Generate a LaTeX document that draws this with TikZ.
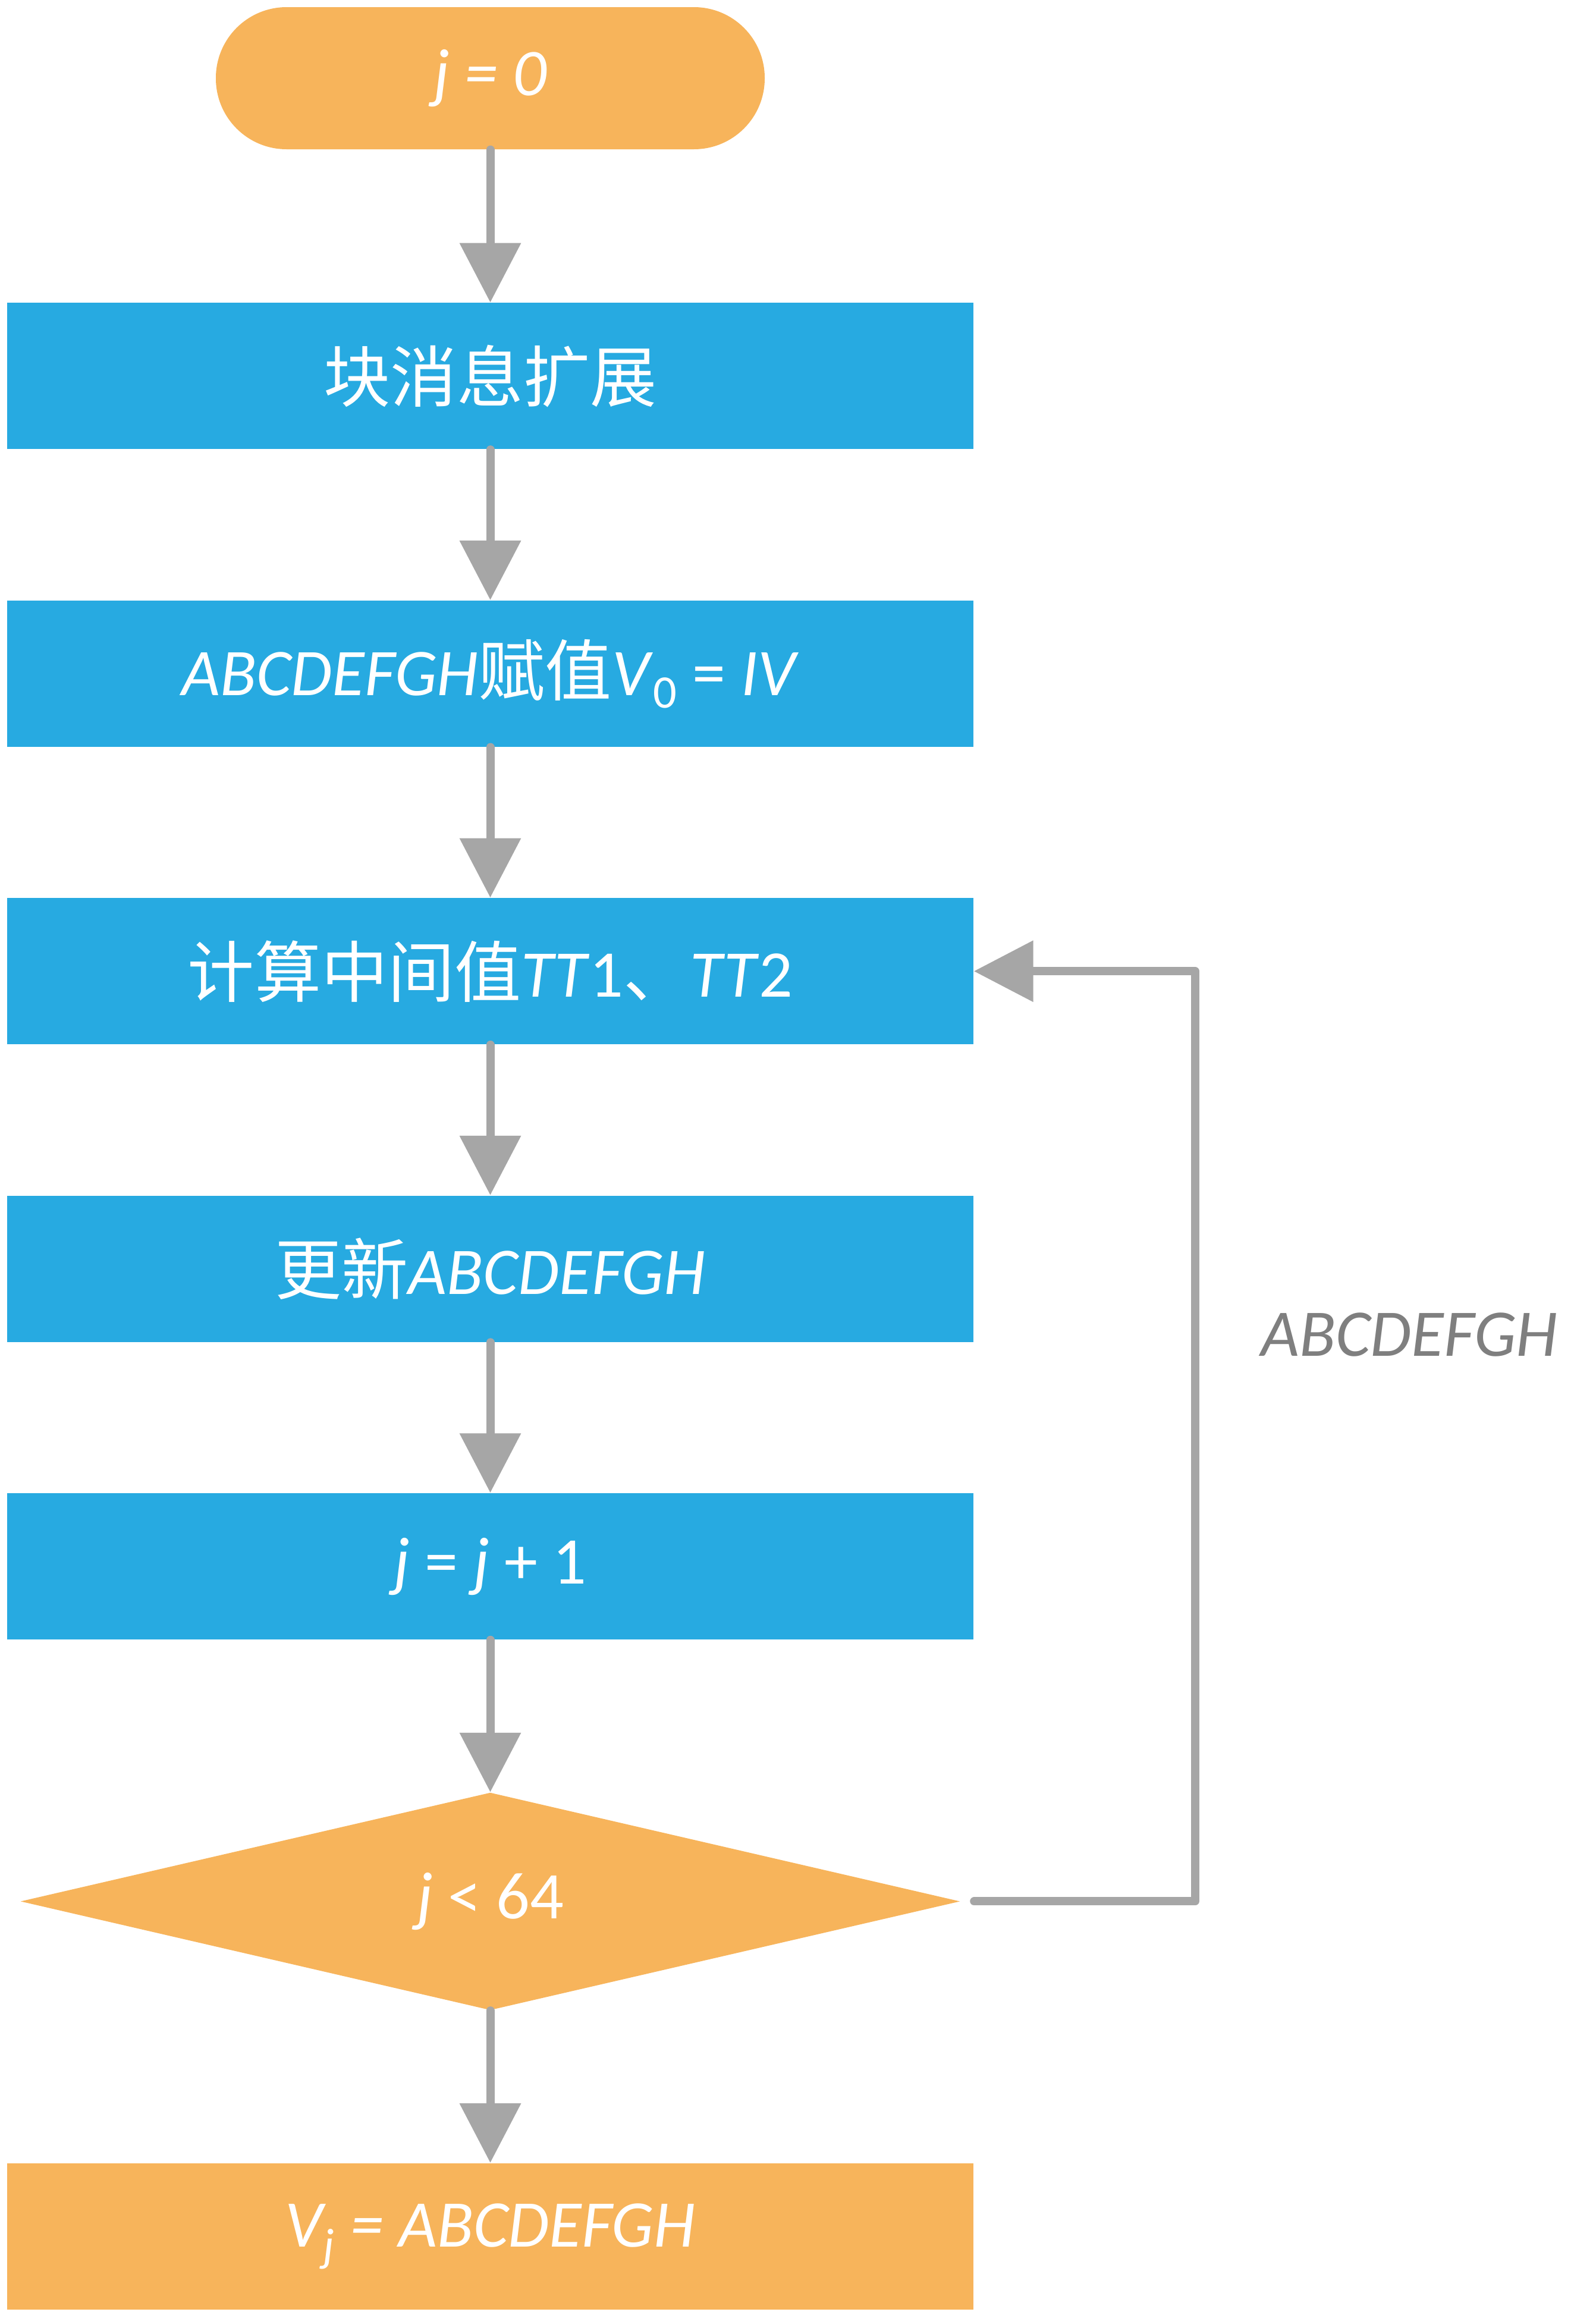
\documentclass[tikz,border=0pt]{standalone}
\usepackage{fontspec}
\setmainfont{Carlito}
\newfontfamily\cjk{Noto Sans CJK SC}
\usetikzlibrary{arrows.meta,positioning,shapes.geometric}
\definecolor{boxblue}{HTML}{27AAE1}
\definecolor{boxorange}{HTML}{F7B45B}
\definecolor{linegray}{HTML}{A6A6A6}
\definecolor{labelgray}{HTML}{7F7F7F}
\tikzset{
  flowtext/.style={text=white, font=\fontsize{31.9}{38}\selectfont, inner sep=0pt},
  procbox/.style={flowtext, rectangle, fill=boxblue, minimum width=16.25cm, minimum height=2.46cm},
  endbox/.style={flowtext, rectangle, fill=boxorange, minimum width=16.25cm, minimum height=2.46cm},
  startbox/.style={flowtext, rectangle, fill=boxorange, rounded corners=1.19cm, minimum width=9.23cm, minimum height=2.39cm},
  testbox/.style={flowtext, diamond, fill=boxorange, minimum width=15.8cm, minimum height=3.66cm},
  flow/.style={draw=linegray, line width=0.14cm, line cap=round, -{Triangle[length=1cm,width=1cm]}},
  sidelabel/.style={text=labelgray, font=\fontsize{31.9}{38}\selectfont\itshape, inner sep=0pt}
}
\begin{document}
\begin{tikzpicture}[node distance=2.53cm]
  \useasboundingbox (0,0) rectangle (26.83,-38.88);
  % nodes
  \node[startbox] (start) at (8.245,-1.315) {\textit{j = 0}};
  \node[procbox, below=2.57cm of start] (expand) {{\cjk 块消息扩展}};
  \node[procbox, below=of expand] (init) {\textit{ABCDEFGH}{\cjk 赋值}\textit{V}\textsubscript{0} = \textit{IV}};
  \node[procbox, below=of init] (calc) {{\cjk 计算中间值}\textit{TT}1{\cjk 、}\textit{TT}2};
  \node[procbox, below=of calc] (update) {{\cjk 更新}\textit{ABCDEFGH}};
  \node[procbox, below=of update] (incr) {\textit{j} = \textit{j} + 1};
  \node[testbox, below=2.56cm of incr] (test) {\textit{j} < 64};
  \node[endbox, below=2.56cm of test] (result) {\textit{V\textsubscript{j} = ABCDEFGH}};
  % connectors
  \draw[flow] (start) -- (expand);
  \draw[flow] (expand) -- (init);
  \draw[flow] (init) -- (calc);
  \draw[flow] (calc) -- (update);
  \draw[flow] (update) -- (incr);
  \draw[flow] (incr) -- (test);
  \draw[flow] (test) -- (result);
  % loop back
  \coordinate (turn) at ([xshift=3.945cm]test.east);
  \draw[flow, line join=round] ([xshift=0.23cm]test.east) -- (turn) |- (calc.east);
  \node[sidelabel] (loopval) at (23.70,-22.44) {ABCDEFGH};
\end{tikzpicture}
\end{document}
